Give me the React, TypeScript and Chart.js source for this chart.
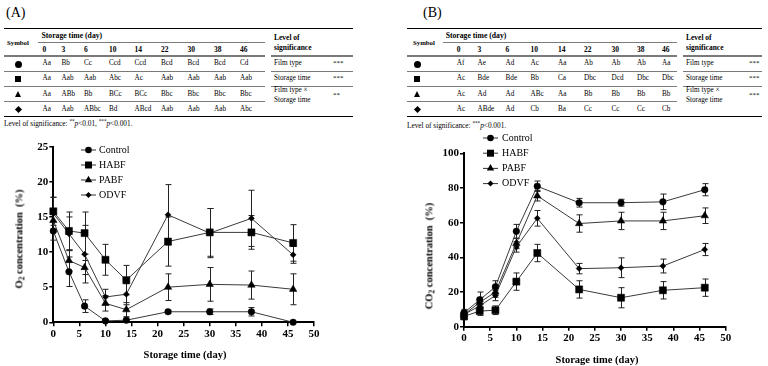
import React, { useEffect, useRef } from "react";
import { Chart, registerables } from "chart.js";
Chart.register(...registerables);

const FONT = '"Liberation Serif", "Times New Roman", Times, serif';

// ---------- data ----------
const days = [0, 3, 6, 10, 14, 22, 30, 38, 46];
const seriesLabels = ["Control", "HABF", "PABF", "ODVF"];

const o2Control = [13.0, 7.2, 2.3, 0.2, 0.3, 1.5, 1.5, 1.5, 0.0];
const o2ControlErr = [1.3, 2.1, 0.9, 0.2, 0.3, 0.2, 0.4, 0.6, 0.1];
const o2HABF = [15.8, 13.0, 12.7, 8.9, 6.0, 11.5, 12.8, 12.8, 11.3];
const o2HABFErr = [2.0, 2.7, 3.0, 2.2, 2.1, 3.5, 3.4, 2.4, 2.6];
const o2PABF = [14.5, 8.8, 7.8, 2.7, 1.8, 5.0, 5.4, 5.3, 4.7];
const o2PABFErr = [1.6, 1.5, 1.0, 1.1, 1.0, 1.9, 2.4, 2.0, 2.2];
const o2ODVF = [15.5, 12.6, 9.7, 3.6, 4.0, 15.3, 12.7, 14.8, 9.6];
const o2ODVFErr = [2.3, 2.4, 4.1, 1.1, 1.5, 4.3, 3.5, 4.0, 1.2];

const co2Control = [8, 15.5, 23, 55, 81, 71.5, 71.5, 72, 79];
const co2ControlErr = [2, 4.5, 3.5, 4, 3, 2.5, 2, 4.5, 3.5];
const co2HABF = [6, 9, 9.5, 26, 42.5, 21.5, 16.7, 21, 22.5];
const co2HABFErr = [2, 2.5, 2.5, 5, 5, 5, 5.8, 5, 5];
const co2PABF = [7, 14, 20, 48, 75.5, 59.5, 61, 61, 64];
const co2PABFErr = [2, 3, 3, 3, 3, 5, 5, 5, 4.5];
const co2ODVF = [7, 12, 18, 46, 62.5, 33.5, 34, 35, 44.5];
const co2ODVFErr = [2, 2.5, 3, 3, 4.5, 3, 5.7, 4, 3.5];

const dayHeaders = ["0", "3", "6", "10", "14", "22", "30", "38", "46"];
const lettersA_Control = ["Aa", "Bb", "Cc", "Ccd", "Ccd", "Bcd", "Bcd", "Bcd", "Cd"];
const lettersA_HABF = ["Aa", "Aab", "Aab", "Abc", "Ac", "Aab", "Aab", "Aab", "Aab"];
const lettersA_PABF = ["Aa", "ABb", "Bb", "BCc", "BCc", "Bbc", "Bbc", "Bbc", "Bbc"];
const lettersA_ODVF = ["Aa", "Aab", "ABbc", "Bd", "ABcd", "Aab", "Aab", "Aab", "Abc"];
const lettersB_Control = ["Af", "Ae", "Ad", "Ac", "Aa", "Ab", "Ab", "Ab", "Aa"];
const lettersB_HABF = ["Ac", "Bde", "Bde", "Bb", "Ca", "Dbc", "Dcd", "Dbc", "Dbc"];
const lettersB_PABF = ["Ac", "Ad", "Ad", "ABc", "Aa", "Bb", "Bb", "Bb", "Bb"];
const lettersB_ODVF = ["Ac", "ABde", "Ad", "Cb", "Ba", "Cc", "Cc", "Cc", "Cb"];
const sigLabels = ["Film type", "Storage time"];
const sigA = ["***", "***", "**"];
const sigB = ["***", "***", "***"];

const markerKinds = ["circle", "square", "triangle", "diamond"];
const pointStyles = ["circle", "rect", "triangle", "rectRot"];
const pointRadii = [3.3, 5, 4.3, 3];

// ---------- helpers ----------
function Txt(p: any) {
  const size = p.size || 7;
  const lh = size * 1.3;
  const style: any = {
    position: "absolute", left: p.x, top: p.y - lh / 2, fontSize: size, lineHeight: lh + "px",
    fontWeight: p.bold ? "bold" : "normal", whiteSpace: "nowrap", fontFamily: FONT, color: "#000",
  };
  if (p.align === "center") style.transform = "translateX(-50%)";
  return <div style={style}>{p.children}</div>;
}
function HLine(p: any) {
  const w = p.w || 1;
  return <div style={{ position: "absolute", left: p.x1, top: p.y - w / 2, width: p.x2 - p.x1, height: w, background: p.color || "#000" }} />;
}
function Marker(p: any) {
  const base: any = { position: "absolute" };
  if (p.kind === "circle") return <div style={{ ...base, left: p.x - 3.5, top: p.y - 3.5, width: 7, height: 7, borderRadius: "50%", background: "#000" }} />;
  if (p.kind === "square") return <div style={{ ...base, left: p.x - 3.2, top: p.y - 3.2, width: 6.4, height: 6.4, background: "#000" }} />;
  if (p.kind === "triangle") return <div style={{ ...base, left: p.x - 3.8, top: p.y - 3.6, width: 0, height: 0, borderLeft: "3.8px solid transparent", borderRight: "3.8px solid transparent", borderBottom: "6.8px solid #000" }} />;
  return <div style={{ ...base, left: p.x - 2.5, top: p.y - 2.5, width: 5, height: 5, background: "#000", transform: "rotate(45deg)" }} />;
}

const ROWY = [64, 79, 94.3, 109.3];
const SEPY = [71.5, 86.5, 101.5];

function SigTable(p: any) {
  const L = p.L;
  const rows = p.rows;
  const gray = "#7a7a7a";
  return (
    <>
      <Txt x={L.labelX} y={13} size={14}>{p.label}</Txt>
      <HLine x1={L.left} x2={L.right} y={28.3} w={1.3} />
      <Txt x={L.symbolX} y={43} size={6.8} bold>Symbol</Txt>
      <Txt x={L.storageX} y={36} size={7.7} bold>Storage time (day)</Txt>
      <HLine x1={L.underX} x2={L.leftEnd} y={42} w={1} color={gray} />
      {dayHeaders.map((d: string, i: number) => <Txt key={"h" + i} x={L.dayX[i]} y={49.5} size={7.5} bold>{d}</Txt>)}
      <HLine x1={L.left} x2={L.leftEnd} y={56} w={1.6} color={gray} />
      <HLine x1={L.rightStart} x2={L.right} y={56} w={1.6} color={gray} />
      <Txt x={L.levelX} y={37.5} size={7.5} bold>Level of</Txt>
      <Txt x={L.levelX} y={47.5} size={7.5} bold>significance</Txt>
      {rows.map((r: string[], ri: number) => (
        <React.Fragment key={"r" + ri}>
          <Marker kind={markerKinds[ri]} x={L.markerX} y={ROWY[ri]} />
          {r.map((c: string, ci: number) => <Txt key={ci} x={L.dayX[ci]} y={ROWY[ri]} size={7.2}>{c}</Txt>)}
        </React.Fragment>
      ))}
      {SEPY.map((y: number, i: number) => <HLine key={"s" + i} x1={L.left} x2={L.leftEnd} y={y} w={1.4} color={gray} />)}
      <HLine x1={L.rightStart} x2={L.right} y={SEPY[0]} w={1.4} color={gray} />
      <HLine x1={L.rightStart} x2={L.right} y={SEPY[1]} w={1.4} color={gray} />
      <Txt x={L.levelX} y={ROWY[0]} size={7.2}>{sigLabels[0]}</Txt>
      <Txt x={L.levelX} y={ROWY[1]} size={7.2}>{sigLabels[1]}</Txt>
      <Txt x={L.levelX} y={91} size={7.2}>{sigLabels[0] + " \u00d7"}</Txt>
      <Txt x={L.levelX} y={101} size={7.2}>{sigLabels[1]}</Txt>
      <Txt x={L.starX} y={ROWY[0]} size={7}>{p.sig[0]}</Txt>
      <Txt x={L.starX} y={ROWY[1]} size={7}>{p.sig[1]}</Txt>
      <Txt x={L.starX} y={96} size={7}>{p.sig[2]}</Txt>
      <HLine x1={L.left} x2={L.right} y={116.5} w={1.3} />
      <Txt x={L.left} y={L.footY} size={7.3}>{p.footer}</Txt>
    </>
  );
}

const supStyle: any = { fontSize: "0.7em", verticalAlign: "super", lineHeight: 0 };

// ---------- chart plugins ----------
const errorBarPlugin = {
  id: "errorBars",
  beforeDatasetsDraw(chart: any) {
    const ctx = chart.ctx;
    const ys = chart.scales.y;
    ctx.save();
    ctx.strokeStyle = "#222";
    ctx.lineWidth = 1;
    chart.data.datasets.forEach((ds: any, i: number) => {
      const meta = chart.getDatasetMeta(i);
      meta.data.forEach((pt: any, j: number) => {
        const v = ds.data[j].y;
        const e = ds.errors[j];
        const top = ys.getPixelForValue(v + e);
        const bot = ys.getPixelForValue(Math.max(0, v - e));
        const x = Math.round(pt.x) + 0.5;
        ctx.beginPath();
        ctx.moveTo(x, top); ctx.lineTo(x, bot);
        ctx.moveTo(x - 3, top); ctx.lineTo(x + 3, top);
        ctx.moveTo(x - 3, bot); ctx.lineTo(x + 3, bot);
        ctx.stroke();
      });
    });
    ctx.restore();
  },
};

function drawMarker(ctx: any, kind: number, x: number, y: number) {
  ctx.beginPath();
  if (kind === 0) ctx.arc(x, y, 3.3, 0, Math.PI * 2);
  else if (kind === 1) ctx.rect(x - 3.5, y - 3.5, 7, 7);
  else if (kind === 2) { ctx.moveTo(x, y - 4.3); ctx.lineTo(x + 3.7, y + 2.15); ctx.lineTo(x - 3.7, y + 2.15); ctx.closePath(); }
  else { ctx.moveTo(x - 3, y); ctx.lineTo(x, y - 3); ctx.lineTo(x + 3, y); ctx.lineTo(x, y + 3); ctx.closePath(); }
  ctx.fill();
}

function makeLegend(cfg: any) {
  return {
    id: "insideLegend",
    afterDraw(chart: any) {
      const ctx = chart.ctx;
      ctx.save();
      chart.data.datasets.forEach((ds: any, i: number) => {
        const y = cfg.y0 + i * cfg.dy;
        ctx.strokeStyle = "#333";
        ctx.lineWidth = 1;
        ctx.beginPath();
        ctx.moveTo(cfg.x0, y + 0.5); ctx.lineTo(cfg.x1, y + 0.5); ctx.stroke();
        ctx.fillStyle = "#000";
        drawMarker(ctx, i, (cfg.x0 + cfg.x1) / 2, y + 0.5);
        ctx.font = "10px " + FONT;
        ctx.textBaseline = "middle";
        ctx.fillText(ds.label, cfg.tx, y + 0.5);
      });
      ctx.restore();
    },
  };
}

function ChartPanel(p: any) {
  const ref = useRef<HTMLCanvasElement>(null);
  useEffect(() => {
    const A = p.area;
    const tickFont = { family: FONT, size: 11, weight: "bold" as const };
    const chart = new Chart(ref.current as HTMLCanvasElement, {
      type: "line",
      data: {
        datasets: p.series.map((s: any, i: number) => ({
          label: seriesLabels[i],
          data: days.map((d, j) => ({ x: d, y: s.values[j] })),
          errors: s.errors,
          borderColor: "#3a3a3a",
          borderWidth: 1,
          pointStyle: pointStyles[i],
          pointRadius: pointRadii[i],
          pointBackgroundColor: "#000",
          pointBorderColor: "#000",
          pointBorderWidth: 0.5,
          tension: 0,
          clip: false,
        })),
      },
      options: {
        animation: false,
        responsive: false,
        events: [],
        layout: { padding: { left: 0, top: A.top, right: p.width - A.right, bottom: 0 } },
        plugins: { legend: { display: false }, tooltip: { enabled: false } },
        scales: {
          x: {
            type: "linear", min: 0, max: 50,
            ticks: { stepSize: 5, color: "#000", font: tickFont, padding: 1, maxRotation: 0 },
            grid: { drawOnChartArea: false, drawTicks: true, tickLength: 4, color: "#000", lineWidth: 1.5 },
            border: { color: "#000", width: 2 },
            afterFit: (s: any) => { s.height = p.height - A.bottom; },
          },
          y: {
            min: 0, max: p.yMax,
            ticks: { stepSize: p.yStep, color: "#000", font: tickFont, padding: 1 },
            grid: { drawOnChartArea: false, drawTicks: true, tickLength: 4, color: "#000", lineWidth: 1.5 },
            border: { color: "#000", width: 2 },
            afterFit: (s: any) => { s.width = A.left; },
          },
        },
      } as any,
      plugins: [errorBarPlugin, makeLegend(p.legend)],
    });
    return () => chart.destroy();
  }, []);
  return (
    <canvas ref={ref} width={p.width} height={p.height}
      style={{ position: "absolute", left: p.left, top: p.top, width: p.width, height: p.height, display: "block" }} />
  );
}

function AxisTitle(p: any) {
  const style: any = {
    position: "absolute", left: p.x, top: p.y, fontFamily: FONT, fontWeight: "bold", fontSize: 10.5,
    lineHeight: "12px", whiteSpace: "nowrap", color: "#000",
    transform: p.rotate ? "translate(-50%,-50%) rotate(-90deg)" : "translate(-50%,-50%)",
  };
  return <div style={style}>{p.children}</div>;
}

export default function App() {
  const layoutA = {
    labelX: 6, left: 4, right: 353, leftEnd: 265, rightStart: 271, symbolX: 7, markerX: 18.3,
    storageX: 41.5, underX: 38, dayX: [42.5, 61.5, 84, 109, 134.5, 161, 187.5, 214, 240],
    levelX: 274, starX: 333, footY: 124,
  };
  const layoutB = {
    labelX: 423, left: 407, right: 762, leftEnd: 677, rightStart: 683, symbolX: 413, markerX: 417.3,
    storageX: 445.7, underX: 443, dayX: [456.7, 477.5, 505.5, 530.5, 558, 584, 611.5, 637, 662],
    levelX: 686, starX: 749, footY: 126,
  };
  const seriesA = [
    { values: o2Control, errors: o2ControlErr },
    { values: o2HABF, errors: o2HABFErr },
    { values: o2PABF, errors: o2PABFErr },
    { values: o2ODVF, errors: o2ODVFErr },
  ];
  const seriesB = [
    { values: co2Control, errors: co2ControlErr },
    { values: co2HABF, errors: co2HABFErr },
    { values: co2PABF, errors: co2PABFErr },
    { values: co2ODVF, errors: co2ODVFErr },
  ];
  return (
    <div style={{ position: "absolute", left: 0, top: 0, width: 768, height: 366, background: "#fff", overflow: "hidden" }}>
      <SigTable L={layoutA} label="(A)" sig={sigA}
        rows={[lettersA_Control, lettersA_HABF, lettersA_PABF, lettersA_ODVF]}
        footer={<>Level of significance: <sup style={supStyle}>**</sup><i>p</i>&lt;0.01, <sup style={supStyle}>***</sup><i>p</i>&lt;0.001.</>} />
      <SigTable L={layoutB} label="(B)" sig={sigB}
        rows={[lettersB_Control, lettersB_HABF, lettersB_PABF, lettersB_ODVF]}
        footer={<>Level of significance: <sup style={supStyle}>***</sup><i>p</i>&lt;0.001.</>} />
      <ChartPanel left={0} top={130} width={384} height={236}
        area={{ left: 53.3, right: 314, top: 16.7, bottom: 192.3 }}
        yMax={25} yStep={5} series={seriesA}
        legend={{ x0: 81, x1: 96, tx: 99, y0: 19.5, dy: 15 }} />
      <ChartPanel left={384} top={130} width={384} height={236}
        area={{ left: 80, right: 341.7, top: 23.3, bottom: 196.7 }}
        yMax={100} yStep={20} series={seriesB}
        legend={{ x0: 99, x1: 114, tx: 118, y0: 7.5, dy: 15.2 }} />
      <AxisTitle x={20.5} y={239} rotate>O<span style={{ fontSize: "0.7em", verticalAlign: "-0.3em" }}>2</span> concentration&nbsp;&nbsp;(%)</AxisTitle>
      <AxisTitle x={185} y={355}>Storage time (day)</AxisTitle>
      <AxisTitle x={431} y={256} rotate>CO<span style={{ fontSize: "0.7em", verticalAlign: "-0.3em" }}>2</span> concentration&nbsp;&nbsp;(%)</AxisTitle>
      <AxisTitle x={597} y={360}>Storage time (day)</AxisTitle>
    </div>
  );
}
